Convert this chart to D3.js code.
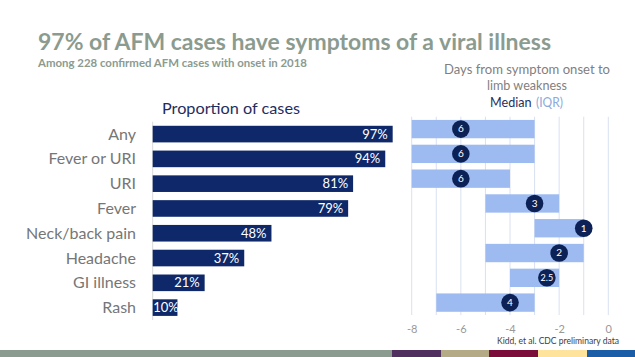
<!DOCTYPE html>
<html><head><meta charset="utf-8">
<script src="https://cdn.jsdelivr.net/npm/d3@7"></script>
<style>body{margin:0;background:#fff}svg{display:block}</style>
</head><body>
<svg id="c" width="635" height="357"></svg>
<script>
const categories = ["Any","Fever or URI","URI","Fever","Neck/back pain","Headache","GI illness","Rash"];
const proportions = [97,94,81,79,48,37,21,10];
const iqrLow = [-8,-8,-8,-5,-3,-5,-4,-7];
const iqrHigh = [-3,-3,-4,-2,-1,-1,-2,-3];
const medians = [6,6,6,3,1,2,2.5,4];
const dayTicks = [-8,-6,-4,-2,0];
const gridDays = [-8,-7,-6,-5,-4,-3,-2,-1,0];
const titleText = "97% of AFM cases have symptoms of a viral illness";
const subtitleText = "Among 228 confirmed AFM cases with onset in 2018";
const sourceText = "Kidd, et al. CDC preliminary data";

const FONT = "Lato, 'Open Sans', sans-serif";
const svg = d3.select("#c");
svg.append("rect").attr("width",635).attr("height",357).attr("fill","#fff");

// Title
svg.append("text").attr("x",38).attr("y",50).text(titleText)
  .attr("font-family",FONT).attr("font-weight",700).attr("font-size",23)
  .attr("fill","#8b9b90").attr("textLength",513).attr("lengthAdjust","spacingAndGlyphs");
svg.append("text").attr("x",38).attr("y",66.5).text(subtitleText)
  .attr("font-family",FONT).attr("font-weight",700).attr("font-size",10.5)
  .attr("fill","#8b9b90").attr("textLength",269).attr("lengthAdjust","spacingAndGlyphs");

// Left chart
const xL = d3.scaleLinear().domain([0,100]).range([152.7,400.1]);
const yL = d3.scaleBand().domain(categories).range([121.7,320]).paddingInner(0.33).paddingOuter(0.165);

svg.append("text").attr("x",231).attr("y",114).attr("text-anchor","middle")
  .text("Proportion of cases").attr("font-family",FONT).attr("font-size",16).attr("fill","#1f2e5e")
  .attr("textLength",138).attr("lengthAdjust","spacingAndGlyphs");

svg.append("line").attr("x1",xL(0)).attr("x2",xL(0)).attr("y1",121.7).attr("y2",320)
  .attr("stroke","#d9d9d9").attr("stroke-width",1);

const gL = svg.append("g");
categories.forEach((c,i)=>{
  const y = yL(c), h = yL.bandwidth(), x0 = xL(0), x1 = xL(proportions[i]);
  gL.append("rect").attr("x",x0).attr("y",y).attr("width",x1-x0).attr("height",h).attr("fill","#0f286a");
  const w = x1-x0;
  const t = gL.append("text").attr("y",y+h/2+4.5).text(proportions[i]+"%")
    .attr("font-family",FONT).attr("font-size",13).attr("fill","#fff");
  if (w < 30) t.attr("x",x0+0.5).attr("text-anchor","start");
  else t.attr("x",x1-5).attr("text-anchor","end");
  gL.append("text").attr("x",136).attr("y",y+h/2+5.5).attr("text-anchor","end").text(c)
    .attr("font-family",FONT).attr("font-size",16).attr("fill","#767676");
});

// Right chart
const xR = d3.scaleLinear().domain([-8,0]).range([411.7,608.3]);
const yR = d3.scaleBand().domain(categories).range([116.7,315]).paddingInner(0.26).paddingOuter(0.13);

const hdr = svg.append("g").attr("font-family",FONT);
hdr.append("text").attr("x",527).attr("y",74).attr("text-anchor","middle").text("Days from symptom onset to")
  .attr("font-size",13.5).attr("fill","#7f7f7f").attr("textLength",166).attr("lengthAdjust","spacingAndGlyphs");
hdr.append("text").attr("x",527).attr("y",90.3).attr("text-anchor","middle").text("limb weakness")
  .attr("font-size",13.5).attr("fill","#7f7f7f").attr("textLength",80).attr("lengthAdjust","spacingAndGlyphs");
hdr.append("text").attr("x",490).attr("y",106.7).attr("font-size",13.5).text("Median")
  .attr("fill","#1f2e5e").attr("textLength",41.5).attr("lengthAdjust","spacingAndGlyphs");
hdr.append("text").attr("x",536).attr("y",106.7).attr("font-size",13.5).text("(IQR)")
  .attr("fill","#8eaadb").attr("textLength",27).attr("lengthAdjust","spacingAndGlyphs");

svg.append("g").selectAll("line").data(gridDays).join("line")
  .attr("x1",d=>xR(d)).attr("x2",d=>xR(d)).attr("y1",116.7).attr("y2",315)
  .attr("stroke","#d9e0f1").attr("stroke-width",1);

const axis = d3.axisBottom(xR).tickValues(dayTicks).tickSize(0).tickPadding(0).tickFormat(d3.format("d"));
const ax = svg.append("g").attr("transform","translate(0,325.5)").call(axis);
ax.select(".domain").remove();
ax.selectAll("text").attr("font-family",FONT).attr("font-size",11).attr("fill","#999999")
  .text(d=> d<0 ? "-"+Math.abs(d) : d);

const gR = svg.append("g");
categories.forEach((c,i)=>{
  const y = yR(c), h = yR.bandwidth();
  gR.append("rect").attr("x",xR(iqrLow[i])).attr("y",y).attr("width",xR(iqrHigh[i])-xR(iqrLow[i]))
    .attr("height",h).attr("fill","#9dbbf0");
  const cx = xR(-medians[i]), cy = y+h/2;
  gR.append("circle").attr("cx",cx).attr("cy",cy).attr("r",8.8).attr("fill","#0c2256");
  gR.append("text").attr("x",cx).attr("y",cy+3.4).attr("text-anchor","middle").text(medians[i])
    .attr("font-family",FONT).attr("font-size",medians[i]%1? 9:10).attr("fill","#fff");
});

svg.append("text").attr("x",619).attr("y",344).attr("text-anchor","end").text(sourceText)
  .attr("font-family",FONT).attr("font-size",9.5).attr("fill","#404040")
  .attr("textLength",122).attr("lengthAdjust","spacingAndGlyphs");

// Footer strip
const footerStops = [0,392,441,489,538,587,635];
const footerColors = ["#8b9b8f","#50305f","#b4aa86","#7b0d3b","#fde39c","#1c5da8"];
svg.append("g").selectAll("rect").data(footerColors).join("rect")
  .attr("x",(d,i)=>footerStops[i]).attr("width",(d,i)=>footerStops[i+1]-footerStops[i])
  .attr("y",350).attr("height",7).attr("fill",d=>d);
</script>
</body></html>
